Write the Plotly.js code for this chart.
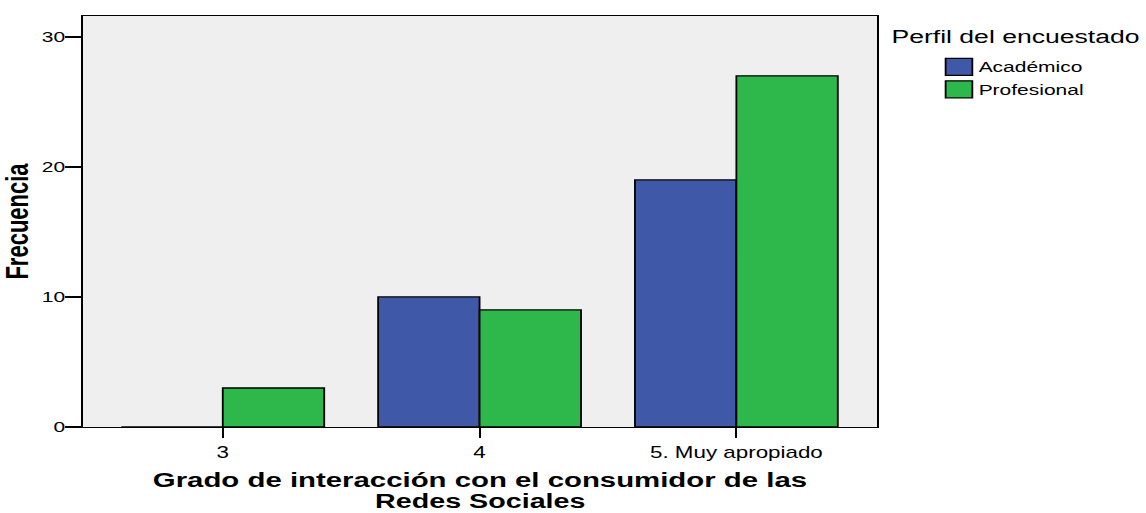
<!DOCTYPE html>
<html>
<head>
<meta charset="utf-8">
<script src="https://cdn.plot.ly/plotly-3.0.1.min.js"></script>
<style>
  html, body { margin: 0; padding: 0; background: #ffffff; overflow: hidden; }
  /* the chart is laid out narrow and widened as a whole */
  #chart { width: 819px; height: 513px; transform: scaleX(1.3993); transform-origin: 0 0; }
</style>
</head>
<body>
<div id="chart"></div>
<script>
// Grado de interacción con el consumidor de las Redes Sociales, por perfil
const categories = ['3', '4', '5. Muy apropiado'];
const academico = [0, 10, 19];
const profesional = [3, 9, 27];
const seriesNames = ['Académico', 'Profesional'];
const yTickValues = [0, 10, 20, 30];

const FONT = 'Liberation Sans, Arial, sans-serif';

const traces = [
  {
    type: 'bar', name: seriesNames[0], x: categories, y: academico,
    marker: { color: '#3F58A8', line: { color: '#000000', width: 1.3 } },
    hoverinfo: 'x+y+name'
  },
  {
    type: 'bar', name: seriesNames[1], x: categories, y: profesional,
    marker: { color: '#2EB84B', line: { color: '#000000', width: 1.3 } },
    hoverinfo: 'x+y+name'
  }
];

const layout = {
  width: 819, height: 513,
  margin: { l: 59.3, r: 192.3, t: 16, b: 86 },
  paper_bgcolor: '#ffffff',
  plot_bgcolor: '#EFEFEF',
  barmode: 'group',
  bargap: 0.21,
  bargroupgap: 0,
  font: { family: FONT, color: '#000000', size: 15 },
  xaxis: {
    type: 'category',
    range: [-0.546, 2.549],
    showline: true, linecolor: '#000000', linewidth: 1.4, mirror: true,
    ticks: 'outside', ticklen: 10, tickwidth: 1.4, tickcolor: '#000000',
    showgrid: false, zeroline: false,
    tickfont: { family: FONT, size: 16, color: '#000000' },
    title: {
      text: 'Grado de interacción con el consumidor de las',
      font: { family: FONT, size: 21, weight: 'bold', color: '#000000' },
      standoff: 12
    }
  },
  yaxis: {
    range: [0, 31.6],
    tickmode: 'array', tickvals: yTickValues, ticktext: yTickValues.map(String),
    showline: true, linecolor: '#000000', linewidth: 1.4, mirror: true,
    ticks: 'outside', ticklen: 11, tickwidth: 1.5, tickcolor: '#000000',
    ticklabelstandoff: -3,
    showgrid: false, zeroline: false,
    tickfont: { family: FONT, size: 15, color: '#000000' },
    title: {
      text: 'Frecuencia',
      font: { family: FONT, size: 22, weight: 'bold', color: '#000000' },
      standoff: 6.5
    }
  },
  showlegend: true,
  legend: {
    x: 1.057, xanchor: 'left',
    y: 0.917, yanchor: 'top',
    font: { family: FONT, size: 15, color: '#000000' },
    bgcolor: 'rgba(0,0,0,0)',
    traceorder: 'normal'
  },
  annotations: [
    {
      text: 'Perfil del encuestado',
      xref: 'paper', yref: 'paper', x: 1.014, y: 0.951,
      xanchor: 'left', yanchor: 'middle', showarrow: false,
      font: { family: FONT, size: 19, color: '#000000' }
    },
    {
      text: 'Redes Sociales',
      xref: 'paper', yref: 'paper', x: 0.5, y: -0.180,
      xanchor: 'center', yanchor: 'middle', showarrow: false,
      font: { family: FONT, size: 20.5, weight: 'bold', color: '#000000' }
    }
  ]
};

// widen each legend swatch and sit it just left of its label
function restyleSwatches(gd) {
  gd.querySelectorAll('.legend .traces').forEach(function (tr) {
    const text = tr.querySelector('text.legendtext');
    const path = tr.querySelector('.legendpoints path');
    if (!text || !path) return;
    const svg = text.ownerSVGElement;
    const tb = text.getBBox();
    // label's left/centre point, mapped into the swatch's own coordinates
    const toSwatch = path.getCTM().inverse().multiply(text.getCTM());
    const pt = svg.createSVGPoint();
    pt.x = tb.x; pt.y = tb.y + tb.height / 2;
    const p = pt.matrixTransform(toSwatch);
    const right = p.x - 4.5;
    const left = right - 19.1;
    const cy = p.y;
    path.setAttribute('d',
      'M' + right + ',' + (cy + 8.5) + 'H' + left + 'V' + (cy - 8.5) + 'H' + right + 'Z');
  });
}

Plotly.newPlot('chart', traces, layout, { displayModeBar: false, staticPlot: true })
  .then(restyleSwatches);
</script>
</body>
</html>
